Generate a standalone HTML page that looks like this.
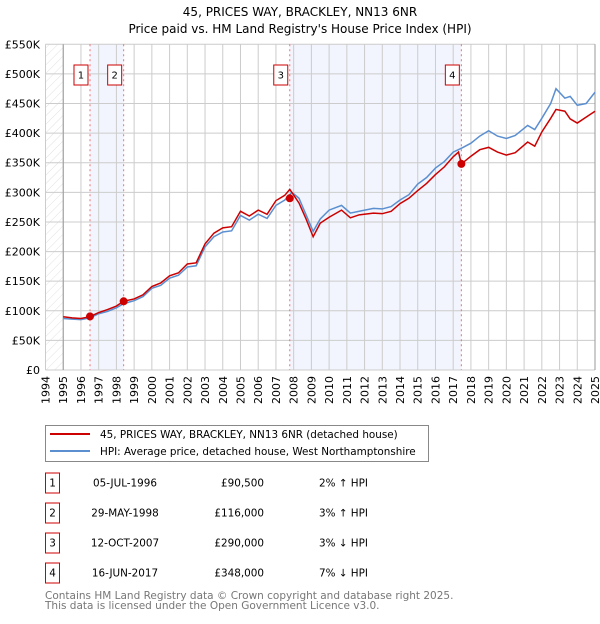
<!DOCTYPE html>
<html><head><meta charset="utf-8"><style>
body{margin:0;background:#fff;font-family:"DejaVu Sans","Liberation Sans",sans-serif;}
svg text{font-family:"DejaVu Sans","Liberation Sans",sans-serif;}
</style></head><body>
<svg id="c" width="600" height="620" xmlns="http://www.w3.org/2000/svg">
<text x="300" y="16" text-anchor="middle" font-size="12">45, PRICES WAY, BRACKLEY, NN13 6NR</text>
<text x="300" y="33" text-anchor="middle" font-size="12">Price paid vs. HM Land Registry's House Price Index (HPI)</text>
<g id="plot"></g>
<g>
<rect x="45.5" y="425.5" width="383" height="36" fill="#fff" stroke="#888"/>
<line x1="50" y1="434" x2="90" y2="434" stroke="#cc0000" stroke-width="2"/>
<text x="100" y="438" font-size="10.4">45, PRICES WAY, BRACKLEY, NN13 6NR (detached house)</text>
<line x1="50" y1="451" x2="90" y2="451" stroke="#5b8fd0" stroke-width="2"/>
<text x="100" y="455" font-size="10.4">HPI: Average price, detached house, West Northamptonshire</text>
</g>
<g id="tbl" font-size="10.4"></g>
<text x="45" y="599" font-size="10.5" fill="#777">Contains HM Land Registry data © Crown copyright and database right 2025.</text>
<text x="45" y="609" font-size="10.5" fill="#777">This data is licensed under the Open Government Licence v3.0.</text>
</svg>
<script>
const hpiDates=[1995,1995.5,1996,1996.5,1997,1997.5,1998,1998.4,1999,1999.5,2000,2000.5,2001,2001.5,2002,2002.5,2003,2003.5,2004,2004.5,2005,2005.5,2006,2006.5,2007,2007.5,2007.9,2008.3,2008.7,2009.1,2009.5,2010,2010.7,2011.2,2011.7,2012.5,2013,2013.5,2014,2014.5,2015,2015.5,2016,2016.5,2017,2017.5,2018,2018.5,2019,2019.5,2020,2020.5,2021.2,2021.6,2022,2022.5,2022.8,2023.3,2023.6,2024,2024.5,2025];
const hpiValues=[87,86,85,88,95,99,105,112,117,124,138,143,155,160,174,176,208,225,233,235,261,253,263,256,278,287,300,290,262,234,255,270,278,265,268,273,272,276,287,296,314,325,341,352,368,375,383,395,404,395,391,396,413,406,425,450,475,459,462,447,450,469];
const redDates=[1995,1995.5,1996,1996.5,1997,1997.5,1998,1998.4,1999,1999.5,2000,2000.5,2001,2001.5,2002,2002.5,2003,2003.5,2004,2004.5,2005,2005.5,2006,2006.5,2007,2007.5,2007.78,2008.3,2008.7,2009.1,2009.5,2010,2010.7,2011.2,2011.7,2012.5,2013,2013.5,2014,2014.5,2015,2015.5,2016,2016.5,2017,2017.3,2017.46,2018,2018.5,2019,2019.5,2020,2020.5,2021.2,2021.6,2022,2022.5,2022.8,2023.3,2023.6,2024,2024.5,2025];
const redValues=[90,88,87,90,97,102,108,116,120,127,141,147,159,164,179,181,213,231,240,242,268,260,270,263,286,295,305,282,255,225,248,258,270,257,262,265,264,268,281,290,303,315,330,343,360,368,348,361,372,376,368,363,367,385,378,402,425,440,437,424,417,427,437];
const saleLabels=["1","2","3","4"];
const saleDates=[1996.51,1998.41,2007.78,2017.46];
const salePrices=[90.5,116,290,348];
const saleDateText=["05-JUL-1996","29-MAY-1998","12-OCT-2007","16-JUN-2017"];
const salePriceText=["£90,500","£116,000","£290,000","£348,000"];
const saleHpiText=["2% ↑ HPI","3% ↑ HPI","3% ↓ HPI","7% ↓ HPI"];
const yTicks=[0,50,100,150,200,250,300,350,400,450,500,550];
const yTickLabels=["£0","£50K","£100K","£150K","£200K","£250K","£300K","£350K","£400K","£450K","£500K","£550K"];
const xTicks=[1994,1995,1996,1997,1998,1999,2000,2001,2002,2003,2004,2005,2006,2007,2008,2009,2010,2011,2012,2013,2014,2015,2016,2017,2018,2019,2020,2021,2022,2023,2024,2025];

const X0=45.5,X1=595,Y0=370,Y1=44.3;
const x=d=>X0+(d-1994)/(2025-1994)*(X1-X0);
const y=v=>Y0-v/550*(Y0-Y1);
const NS="http://www.w3.org/2000/svg";
const plot=document.getElementById('plot');
function mk(tag,attrs,parent){const e=document.createElementNS(NS,tag);for(const k in attrs)e.setAttribute(k,attrs[k]);(parent||plot).appendChild(e);return e;}

const defs=mk('defs',{});
const pat=mk('pattern',{id:'hatch',width:6,height:6,patternUnits:'userSpaceOnUse',patternTransform:'rotate(45)'},defs);
mk('line',{x1:0,y1:0,x2:0,y2:6,stroke:'#ccc','stroke-width':0.6},pat);

let e=mk('rect',{x:X0,y:Y1,width:X1-X0,height:Y0-Y1,fill:'#fff'});


e=mk('rect',{x:X0,y:Y1,width:x(1995)-X0,height:Y0-Y1,fill:'url(#hatch)'});


for(let i=0;i<saleDates.length;i+=2){
 e=mk('rect',{x:x(saleDates[i]),y:Y1,width:x(saleDates[i+1])-x(saleDates[i]),height:Y0-Y1,fill:'#eef2fc',opacity:0.75});
 
 
}
xTicks.forEach(t=>{
 e=mk('line',{x1:x(t),y1:Y1,x2:x(t),y2:Y0,stroke:'#ccc','stroke-width':1});
 
 
 e=mk('text',{x:0,y:0,transform:`translate(${x(t)+4},${Y0+6}) rotate(-90)`,'text-anchor':'end','font-size':11});
 e.textContent=t;
 
 
});
yTicks.forEach((t,i)=>{
 e=mk('line',{x1:X0,y1:y(t),x2:X1,y2:y(t),stroke:'#ccc','stroke-width':1});
 
 
 e=mk('text',{x:40,y:y(t)+4,'text-anchor':'end','font-size':11});
 e.textContent=yTickLabels[i];
 
 
});
e=mk('line',{x1:x(1995),y1:Y1,x2:x(1995),y2:Y0,stroke:'#999'});


e=mk('line',{x1:X1,y1:Y1,x2:X1,y2:Y0,stroke:'#999'});


saleDates.forEach((d,i)=>{
 e=mk('line',{x1:x(d),y1:Y1,x2:x(d),y2:Y0,stroke:'#f07070','stroke-dasharray':'2,3'});
 
 
 e=mk('rect',{x:x(d)-16,y:65,width:14,height:20,fill:'#fff',stroke:'#cc0000'});
 
 
 e=mk('text',{x:x(d)-9,y:78.5,'text-anchor':'middle','font-size':10});
 e.textContent=saleLabels[i];
 
 
});
e=mk('polyline',{points:hpiDates.map((d,i)=>x(d)+','+y(hpiValues[i])).join(' '),fill:'none',stroke:'#5b8fd0','stroke-width':1.5});


e=mk('polyline',{points:redDates.map((d,i)=>x(d)+','+y(redValues[i])).join(' '),fill:'none',stroke:'#cc0000','stroke-width':1.5});


saleDates.forEach((d,i)=>{
 e=mk('circle',{cx:x(d),cy:y(salePrices[i]),r:4,fill:'#cc0000'});
 
 
});
const tbl=document.getElementById('tbl');
saleDates.forEach((d,i)=>{
 const cy=483+i*30;
 e=mk('rect',{x:45.5,y:cy-10,width:14,height:20,fill:'#fff',stroke:'#cc0000'},tbl);
 
 
 e=mk('text',{x:52.5,y:cy+3.5,'text-anchor':'middle'},tbl);e.textContent=saleLabels[i];
 
 
 e=mk('text',{x:125,y:cy+3.5,'text-anchor':'middle'},tbl);e.textContent=saleDateText[i];
 
 
 e=mk('text',{x:264,y:cy+3.5,'text-anchor':'end'},tbl);e.textContent=salePriceText[i];
 
 
 e=mk('text',{x:319,y:cy+3.5},tbl);e.textContent=saleHpiText[i];
 
 
});
</script>
</body></html>
